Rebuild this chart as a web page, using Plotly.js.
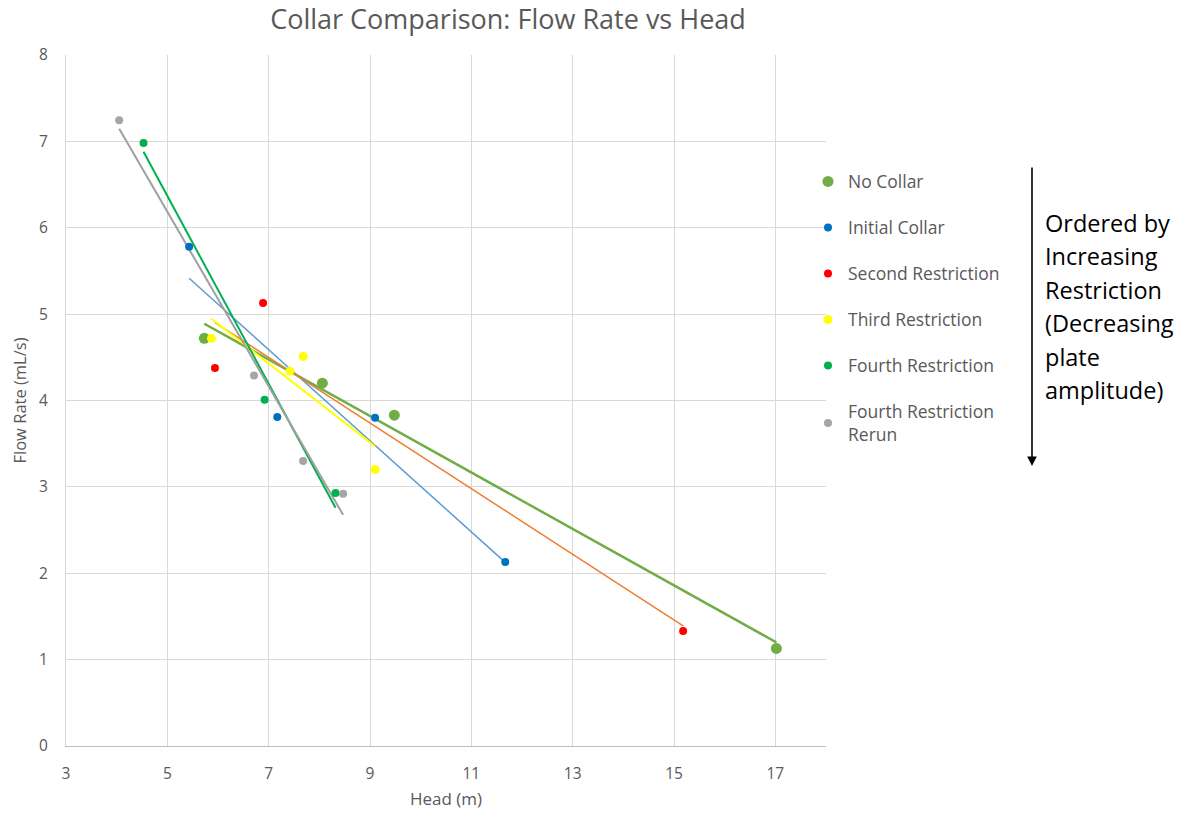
<!DOCTYPE html>
<html>
<head>
<meta charset="utf-8">
<script src="https://cdn.plot.ly/plotly-3.0.1.min.js"></script>
<style>html,body{margin:0;padding:0;background:#fff;}#chart{width:1194px;height:819px;}</style>
</head>
<body>
<div id="chart"></div>
<script>
// ---- data ----
const seriesNames = ["No Collar", "Initial Collar", "Second Restriction", "Third Restriction", "Fourth Restriction", "Fourth Restriction<br>Rerun"];

const noCollarHead = [5.73, 8.06, 9.48, 17.02];
const noCollarFlow = [4.72, 4.20, 3.83, 1.13];

const initialCollarHead = [5.43, 7.17, 9.10, 11.67];
const initialCollarFlow = [5.78, 3.81, 3.80, 2.13];

const secondRestrictionHead = [6.89, 5.94, 15.18];
const secondRestrictionFlow = [5.13, 4.375, 1.33];

const thirdRestrictionHead = [5.87, 7.42, 7.68, 9.10];
const thirdRestrictionFlow = [4.72, 4.34, 4.51, 3.20];

const fourthRestrictionHead = [4.53, 6.92, 8.32];
const fourthRestrictionFlow = [6.98, 4.01, 2.93];

const rerunHead = [4.05, 6.71, 7.68, 8.47];
const rerunFlow = [7.245, 4.29, 3.30, 2.92];

const xTickVals = [3, 5, 7, 9, 11, 13, 15, 17];
const yTickVals = [0, 1, 2, 3, 4, 5, 6, 7, 8];

const noteLines = ["Ordered by", "Increasing", "Restriction", "(Decreasing", "plate", "amplitude)"];

// ---- styling ----
const styles = [
  {marker: "#70AD47", msize: 11, trend: "#70AD47", twidth: 2.5},
  {marker: "#0070C0", msize: 8, trend: "#5B9BD5", twidth: 1.5},
  {marker: "#FF0000", msize: 8, trend: "#ED7D31", twidth: 1.5},
  {marker: "#FFFF00", msize: 9, trend: "#FFFF00", twidth: 2},
  {marker: "#00B050", msize: 8, trend: "#00B050", twidth: 2},
  {marker: "#A5A5A5", msize: 8, trend: "#A0A0A0", twidth: 2}
];

const series = [
  [noCollarHead, noCollarFlow],
  [initialCollarHead, initialCollarFlow],
  [secondRestrictionHead, secondRestrictionFlow],
  [thirdRestrictionHead, thirdRestrictionFlow],
  [fourthRestrictionHead, fourthRestrictionFlow],
  [rerunHead, rerunFlow]
];

// least-squares linear trendline (like Excel's linear trendline)
function trend(xs, ys) {
  const n = xs.length;
  const mx = xs.reduce((a, b) => a + b, 0) / n;
  const my = ys.reduce((a, b) => a + b, 0) / n;
  let sxy = 0, sxx = 0;
  for (let i = 0; i < n; i++) { sxy += (xs[i] - mx) * (ys[i] - my); sxx += (xs[i] - mx) ** 2; }
  const m = sxy / sxx, b = my - m * mx;
  const x0 = Math.min(...xs), x1 = Math.max(...xs);
  return {x: [x0, x1], y: [m * x0 + b, m * x1 + b]};
}

const traces = [];
series.forEach((s, i) => {
  const t = trend(s[0], s[1]);
  traces.push({
    x: t.x, y: t.y, type: "scatter", mode: "lines",
    line: {color: styles[i].trend, width: styles[i].twidth},
    showlegend: false, hoverinfo: "skip"
  });
});
series.forEach((s, i) => {
  traces.push({
    x: s[0], y: s[1], type: "scatter", mode: "markers",
    name: seriesNames[i], legendgroup: "g" + i,
    marker: {color: styles[i].marker, size: styles[i].msize}
  });
});

const FONT = "Open Sans, Liberation Sans, sans-serif";
const GREY = "#595959";

// plot area in pixels: left 66, right 826, top 55, bottom 746
const L = 66, R = 826, T = 55, B = 746;
const px2x = p => (p - L) / (R - L);
const py2y = p => (B - p) / (B - T);

const annotations = [];
const lineY = [223, 256, 290, 323, 357, 390];
noteLines.forEach((txt, i) => {
  annotations.push({
    xref: "paper", yref: "paper", x: px2x(1043), y: py2y(lineY[i]),
    xanchor: "left", yanchor: "middle", showarrow: false,
    text: txt, font: {family: FONT, size: 23.5, color: "#000000"}
  });
});
annotations.push({
  xref: "paper", yref: "paper", x: px2x(1032), y: py2y(466),
  axref: "pixel", ayref: "pixel", ax: 0, ay: -300,
  showarrow: true, arrowhead: 2, arrowsize: 1.2, arrowwidth: 1.6, arrowcolor: "#000000",
  text: ""
});

const layout = {
  width: 1194, height: 819,
  margin: {l: L, r: 1194 - R, t: T, b: 819 - B, pad: 0},
  paper_bgcolor: "#ffffff", plot_bgcolor: "#ffffff",
  font: {family: FONT, color: GREY, size: 15},
  title: {text: "Collar Comparison: Flow Rate vs Head", font: {family: FONT, size: 27, color: GREY},
          x: 508 / 1194, xanchor: "center", y: 1 - 20 / 819, yanchor: "middle"},
  xaxis: {
    range: [3, 18], tickvals: xTickVals, ticktext: xTickVals.map(String),
    showgrid: true, gridcolor: "#D9D9D9", gridwidth: 1,
    zeroline: false, showline: true, linecolor: "#BFBFBF", linewidth: 1,
    ticks: "", ticklabelstandoff: 13,
    tickfont: {family: FONT, size: 15.5, color: GREY},
    title: {text: "Head (m)", font: {family: FONT, size: 17, color: GREY}, standoff: 10}
  },
  yaxis: {
    range: [0, 8], tickvals: yTickVals, ticktext: yTickVals.map(String),
    showgrid: true, gridcolor: "#D9D9D9", gridwidth: 1,
    zeroline: false, showline: true, linecolor: "#D9D9D9", linewidth: 1,
    ticks: "", ticklabelstandoff: 14,
    tickfont: {family: FONT, size: 15.5, color: GREY},
    title: {text: "Flow Rate (mL/s)", font: {family: FONT, size: 16.5, color: GREY}, standoff: 8}
  },
  legend: {
    x: px2x(808), y: py2y(163.5), xanchor: "left", yanchor: "top",
    font: {family: FONT, size: 17.5, color: GREY},
    traceorder: "grouped", tracegroupgap: 20.3, itemwidth: 30,
    bgcolor: "rgba(0,0,0,0)"
  },
  annotations: annotations,
  showlegend: true
};

Plotly.newPlot("chart", traces, layout, {displayModeBar: false, staticPlot: true});
</script>
</body>
</html>
